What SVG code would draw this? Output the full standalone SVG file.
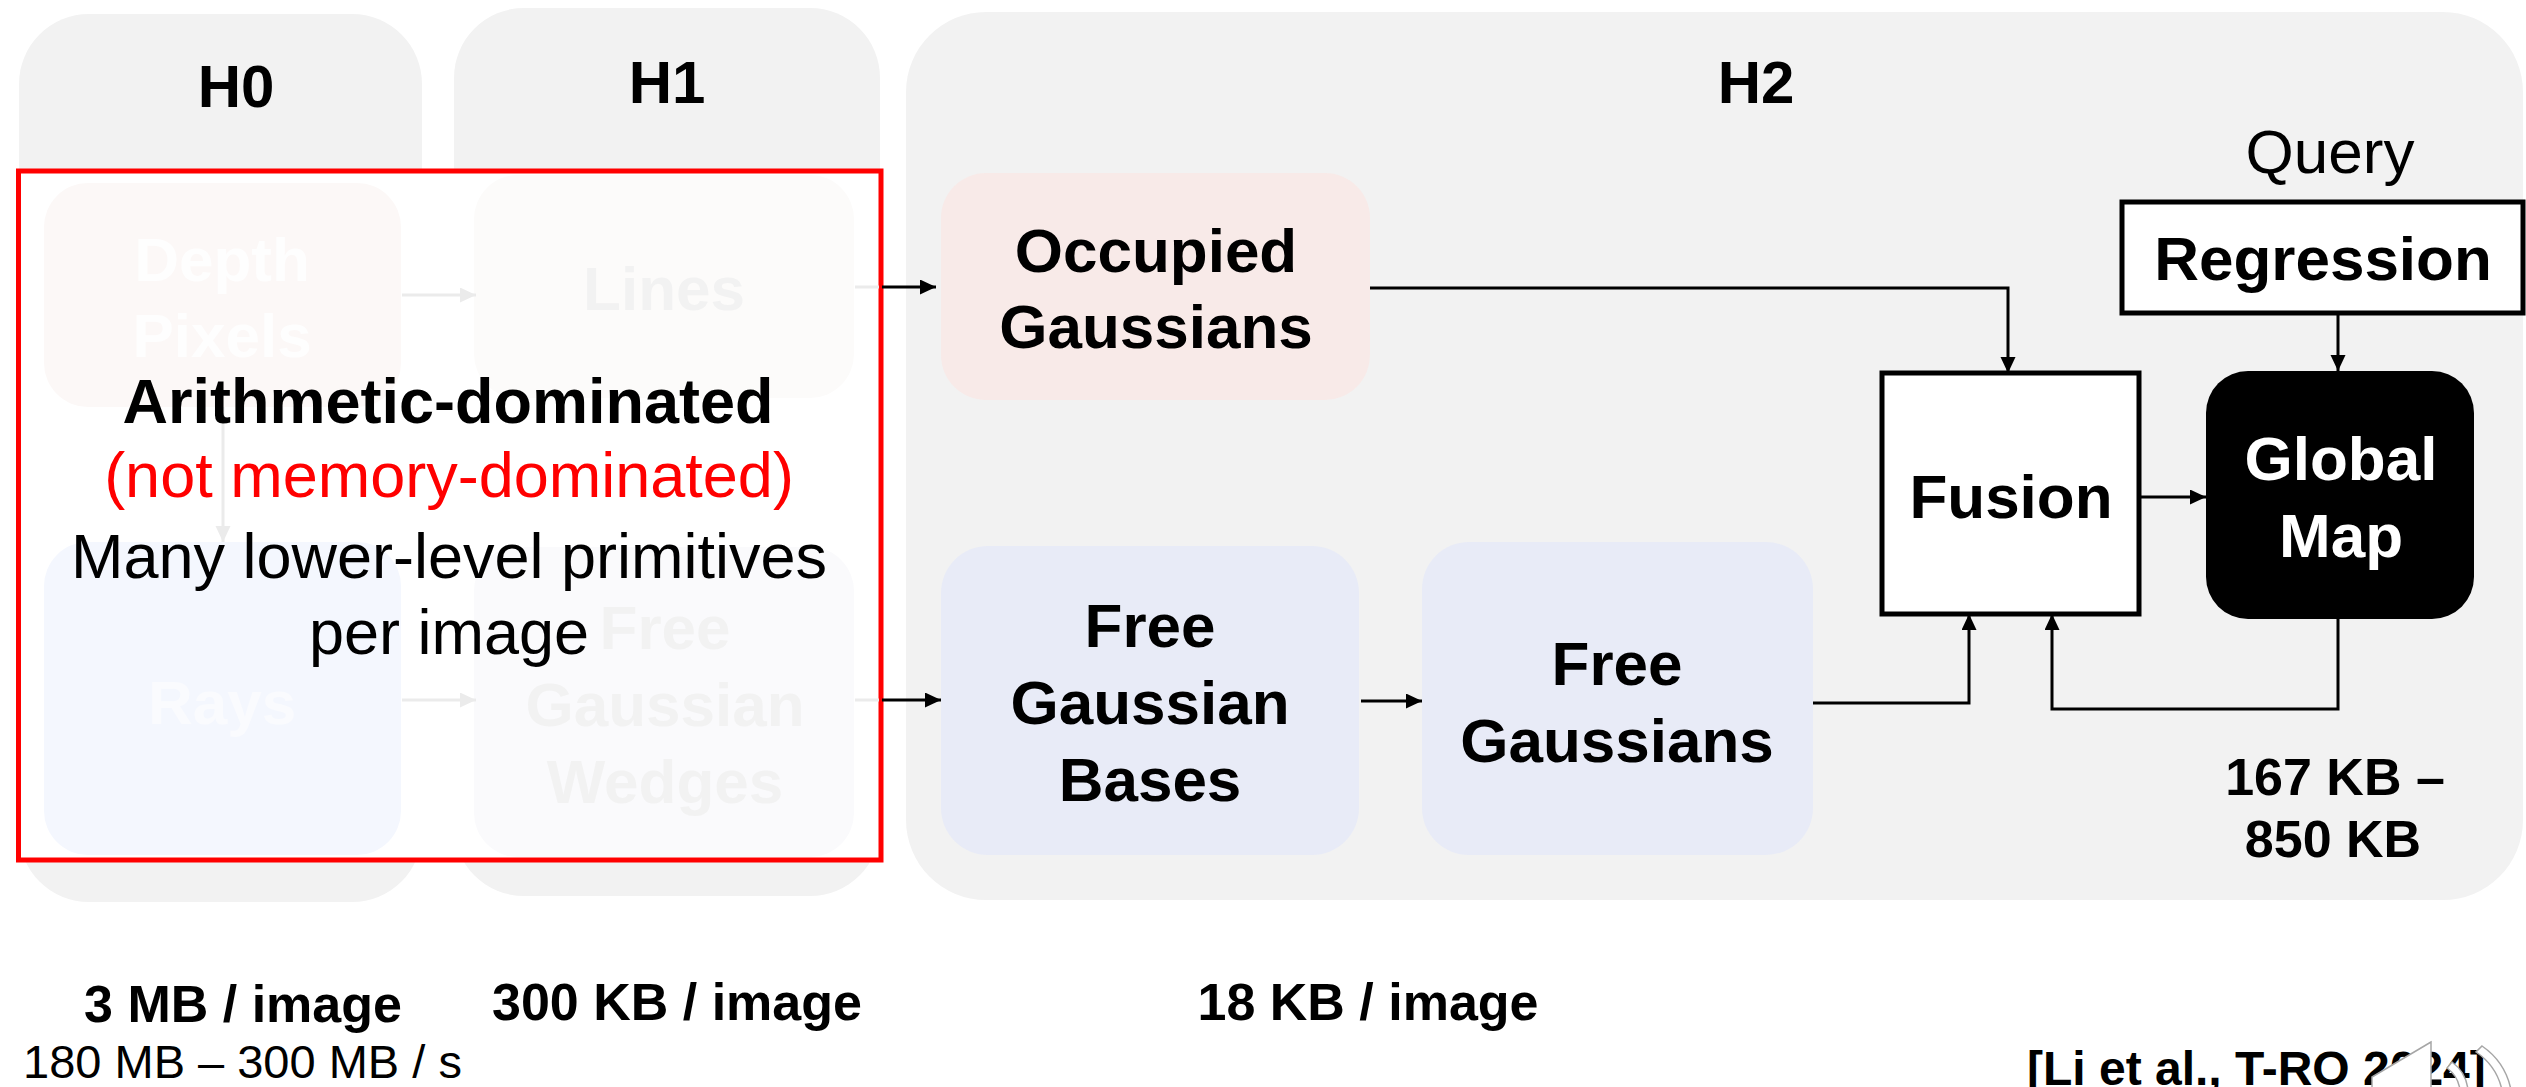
<svg xmlns="http://www.w3.org/2000/svg" width="2526" height="1087" viewBox="0 0 2526 1087">
  <defs>
    <marker id="arrow" markerUnits="userSpaceOnUse" markerWidth="16" markerHeight="16" refX="16" refY="7.5" orient="auto">
      <path d="M0,0 L16,7.5 L0,15 z" fill="#000"/>
    </marker>
    <marker id="arrow-faded" markerUnits="userSpaceOnUse" markerWidth="16" markerHeight="16" refX="16" refY="7.5" orient="auto">
      <path d="M0,0 L16,7.5 L0,15 z" fill="#ebebeb"/>
    </marker>
    <style>
      text { font-family: "Liberation Sans", Arial, sans-serif; text-anchor: middle; }
      .b { font-weight: bold; }
      .t62 { font-size: 62px; }
      .t52 { font-size: 52px; }
      .panel { fill: #f2f2f2; }
      .wire { fill: none; stroke: #000; stroke-width: 3; marker-end: url(#arrow); }
      .wire-faded { fill: none; stroke: #ebebeb; stroke-width: 3; }
      .faded-text { fill: #f2f2f2; }
      .box { fill: #fff; stroke: #000; stroke-width: 5; }
    </style>
  </defs>

  <!-- hierarchy panels -->
  <g id="panel-h0">
    <rect class="panel" x="19" y="14" width="403" height="888" rx="70" ry="70"/>
    <text class="b" x="236" y="107" font-size="60">H0</text>
  </g>
  <g id="panel-h1">
    <rect class="panel" x="454" y="8" width="426" height="888" rx="70" ry="70"/>
    <text class="b" x="667" y="103" font-size="60">H1</text>
  </g>
  <g id="panel-h2">
    <rect class="panel" x="906" y="12" width="1617" height="888" rx="80" ry="80"/>
    <text class="b" x="1756" y="103" font-size="60">H2</text>
  </g>

  <!-- highlighted low-level region (H0/H1 faded behind it) -->
  <g id="callout-box">
    <rect x="18.5" y="171" width="862.5" height="689" fill="#fff" stroke="#ff0000" stroke-width="5"/>
  </g>

  <!-- faded low-level nodes -->
  <g id="node-depth-pixels">
    <rect x="44" y="183" width="357" height="224" rx="44" fill="#fcf8f7"/>
    <text class="b t62" x="222" y="281" fill="#fefefe">Depth</text>
    <text class="b t62" x="222" y="357" fill="#fefefe">Pixels</text>
  </g>
  <g id="node-lines">
    <rect x="474" y="175" width="380" height="223" rx="44" fill="#fcfbfa"/>
    <text class="b t62 faded-text" x="664" y="310">Lines</text>
  </g>
  <g id="node-rays">
    <rect x="44" y="542" width="357" height="313" rx="44" fill="#f4f7fe"/>
    <text class="b t62" x="222" y="724" fill="#fafbfe">Rays</text>
  </g>
  <g id="node-free-gaussian-wedges">
    <rect x="474" y="547" width="380" height="310" rx="44" fill="#fafafc"/>
    <text class="b t62 faded-text" x="665" y="649">Free</text>
    <text class="b t62 faded-text" x="665" y="726">Gaussian</text>
    <text class="b t62 faded-text" x="665" y="803">Wedges</text>
  </g>

  <!-- H2 nodes -->
  <g id="node-occupied-gaussians">
    <rect x="941" y="173" width="429" height="227" rx="45" fill="#f8eae8"/>
    <text class="b t62" x="1156" y="272">Occupied</text>
    <text class="b t62" x="1156" y="348">Gaussians</text>
  </g>
  <g id="node-free-gaussian-bases">
    <rect x="941" y="546" width="418" height="309" rx="47" fill="#e8ebf7"/>
    <text class="b t62" x="1150" y="647">Free</text>
    <text class="b t62" x="1150" y="724">Gaussian</text>
    <text class="b t62" x="1150" y="801">Bases</text>
  </g>
  <g id="node-free-gaussians">
    <rect x="1422" y="542" width="391" height="313" rx="47" fill="#e8ebf7"/>
    <text class="b t62" x="1617" y="685">Free</text>
    <text class="b t62" x="1617" y="762">Gaussians</text>
  </g>
  <g id="node-fusion">
    <rect class="box" x="1882" y="373" width="257" height="241"/>
    <text class="b t62" x="2011" y="518">Fusion</text>
  </g>
  <g id="node-global-map">
    <rect x="2206" y="371" width="268" height="248" rx="42" fill="#000"/>
    <text class="b t62" x="2341" y="480" fill="#fff">Global</text>
    <text class="b t62" x="2341" y="557" fill="#fff">Map</text>
  </g>
  <g id="node-regression">
    <text class="t62" x="2330" y="173">Query</text>
    <rect class="box" x="2122" y="202" width="401" height="111"/>
    <text class="b t62" x="2323" y="280">Regression</text>
  </g>

  <!-- connectors -->
  <g id="connectors">
    <!-- faded, inside the callout -->
    <path class="wire-faded" d="M402,295 H476" marker-end="url(#arrow-faded)"/>
    <path class="wire-faded" d="M223,407 V542" marker-end="url(#arrow-faded)"/>
    <path class="wire-faded" d="M402,700 H476" marker-end="url(#arrow-faded)"/>
    <path class="wire-faded" d="M855,287 H879"/>
    <path class="wire-faded" d="M855,700 H879"/>
    <!-- visible part -->
    <path class="wire" d="M882,287 H936"/>
    <path class="wire" d="M882,700 H941"/>
    <path class="wire" d="M1361,701 H1422"/>
    <path class="wire" d="M1370,288 H2008 V373"/>
    <path class="wire" d="M1813,703 H1969 V614"/>
    <path class="wire" d="M2139,497 H2206"/>
    <path class="wire" d="M2338,313 V371"/>
    <path class="wire" d="M2338,619 V709 H2052 V614"/>
  </g>

  <!-- callout text -->
  <g id="callout-text">
    <text class="b" x="448" y="423" font-size="63">Arithmetic-dominated</text>
    <text x="449" y="497" font-size="63" fill="#ff0000">(not memory-dominated)</text>
    <text x="449" y="578" font-size="63">Many lower-level primitives</text>
    <text x="449" y="654" font-size="63">per image</text>
  </g>

  <!-- sizes -->
  <g id="sizes">
    <text class="b t52" x="2335" y="795">167 KB –</text>
    <text class="b t52" x="2333" y="857">850 KB</text>
    <text class="b t52" x="243" y="1022">3 MB / image</text>
    <text class="b t52" x="677" y="1020">300 KB / image</text>
    <text class="b t52" x="1368" y="1020">18 KB / image</text>
    <text x="23" y="1078" font-size="47" style="text-anchor:start">180 MB – 300 MB / s</text>
    <text class="b" x="2027" y="1085" font-size="48" style="text-anchor:start">[Li et al., T-RO 2024]</text>
  </g>

  <!-- audio icon -->
  <g id="audio-icon" fill="#fff" stroke="#a6a6a6" stroke-width="1.5">
    <path d="M2431,1042 L2372,1077 V1090 H2431 Z"/>
    <path d="M2452,1062 A40,40 0 0 1 2468,1090 L2460,1090 A32,32 0 0 0 2447,1068 Z"/>
    <path d="M2482,1046 A70,70 0 0 1 2511,1090 L2502,1090 A62,62 0 0 0 2476,1052 Z"/>
  </g>
</svg>
